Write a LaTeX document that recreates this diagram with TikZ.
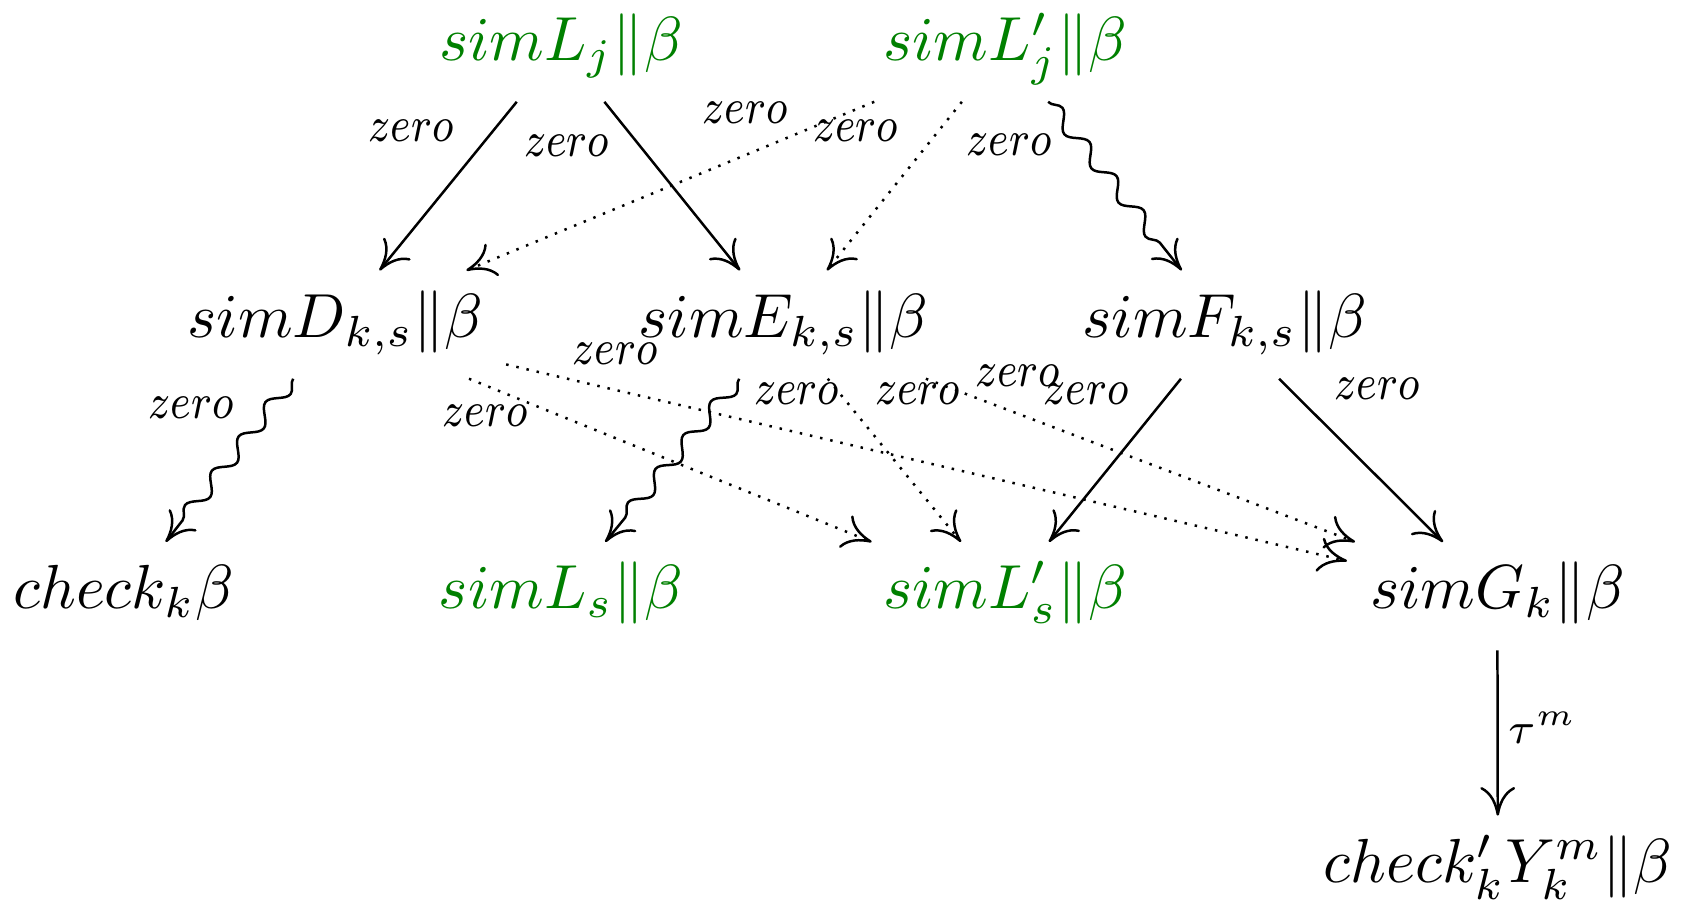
\documentclass[tikz,border=0pt]{standalone}
\usepackage{amsmath,amssymb}
\usetikzlibrary{arrows.meta,decorations.pathmorphing}
\definecolor{simgreen}{RGB}{0,128,0}
\newcommand{\zlbl}{\scalebox{0.83}[1]{$zero$}}

\tikzset{
  obj/.style={anchor=base,inner xsep=3.5pt,inner ysep=3pt,text height=7.5pt,text depth=3.5pt},
  sim/.style={obj,text=simgreen},
  zlab/.style={font=\fontsize{8pt}{9pt}\selectfont,inner sep=0pt},
  tlab/.style={font=\scriptsize,inner sep=0pt},
  map/.style={-{Computer Modern Rightarrow[length=4.6pt,width=5.6pt]}},
  dotmap/.style={map,dash pattern=on 0.4pt off 1.27pt},
  squig/.style={map,decorate,decoration={snake,amplitude=1.2pt,segment length=7pt,post length=3pt}}
}

\begin{document}
\begin{tikzpicture}[x=0.1724pt,y=-0.1724pt]
  \useasboundingbox (0,0) rectangle (1568,842);
  % objects, set on their baselines
  \node[sim] (Lj)   at (522.5,56)  {$simL_j\|\beta$};
  \node[sim] (Lpj)  at (936.5,56)  {$simL'_j\|\beta$};
  \node[obj] (D)    at (312.5,314) {$simD_{k,s}\|\beta$};
  \node[obj] (E)    at (730,314)   {$simE_{k,s}\|\beta$};
  \node[obj] (F)    at (1141,314)  {$simF_{k,s}\|\beta$};
  \node[obj] (chk)  at (115,567)   {$check_k\beta$};
  \node[sim] (Ls)   at (522.5,567) {$simL_s\|\beta$};
  \node[sim] (Lps)  at (936.5,567) {$simL'_s\|\beta$};
  \node[obj] (G)    at (1395,567)  {$simG_k\|\beta$};
  \node[obj] (chkY) at (1395.5,822) {$check'_kY^m_k\|\beta$};
  % first row down
  \draw[map] (Lj) -- (D);
  \draw[map] (Lj) -- (E);
  \draw[dotmap] (Lpj) -- (D);
  \draw[dotmap] (Lpj) -- (E);
  \draw[squig] (Lpj) -- (F);
  % second row down
  \draw[squig] (D) -- (chk);
  \draw[dotmap] (D) -- (Lps);
  \draw[dotmap] (D) -- (G);
  \draw[squig] (E) -- (Ls);
  \draw[dotmap] (E) -- (Lps);
  \draw[dotmap] (E) -- (G);
  \draw[map] (F) -- (Lps);
  \draw[map] (F) -- (G);
  \draw[map] (G) -- (chkY);
  % labels
  \node[zlab] (zLjD)  at (383,122)  {\zlbl};
  \node[zlab] (zLjE)  at (528,136)  {\zlbl};
  \node[zlab] (zLpjD) at (694,105)  {\zlbl};
  \node[zlab] (zLpjE) at (797,122)  {\zlbl};
  \node[zlab] (zLpjF) at (940,135)  {\zlbl};
  \node[zlab] (zDc)   at (178,380)  {\zlbl};
  \node[zlab] (zDLps) at (452,387)  {\zlbl};
  \node[zlab] (zDG)   at (573,330)  {\zlbl};
  \node[zlab] (zELs)  at (742,367)  {\zlbl};
  \node[zlab] (zELps) at (855,367)  {\zlbl};
  \node[zlab] (zEG)   at (948,350)  {\zlbl};
  \node[zlab] (zFLps) at (1012,367) {\zlbl};
  \node[zlab] (zFG)   at (1283,362) {\zlbl};
  \node[tlab] (tGY)   at (1437,678) {$\tau^m$};
\end{tikzpicture}
\end{document}
